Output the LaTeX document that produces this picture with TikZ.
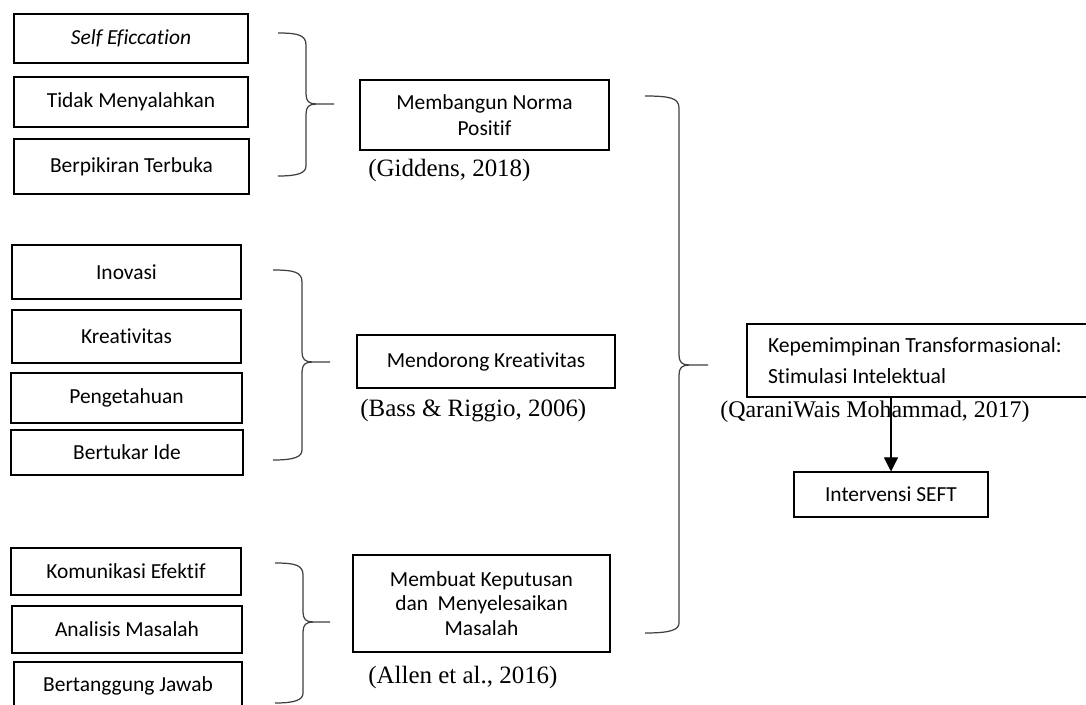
\documentclass[tikz,border=0pt]{standalone}
\usepackage{fontspec}
\setmainfont[Ligatures=NoCommon]{Carlito}
\newfontfamily\citefont{Liberation Serif}
\usepackage{tikz}
\usetikzlibrary{arrows.meta}

\tikzset{
  factor/.style={draw, line width=1.1pt, inner sep=0pt, align=center,
    font=\fontsize{12.2}{14.7}\selectfont},
  refnote/.style={anchor=west, inner sep=0pt,
    font=\citefont\fontsize{14.2}{16}\selectfont},
  bracket/.style={line width=0.7pt, draw=black!75},
}

\begin{document}
\begin{tikzpicture}[x=0.02cm,y=-0.02cm]
\useasboundingbox[fill=white] (0,0) rectangle (1086,704);
\node[factor, minimum width=4.68cm, minimum height=0.98cm] (se) at (131,38.5) {\itshape Self Eficcation};
\node[factor, minimum width=4.68cm, minimum height=1.00cm] (tm) at (131,102) {Tidak Menyalahkan};
\node[factor, minimum width=4.70cm, minimum height=1.10cm] (bt) at (131.5,166.5) {Berpikiran Terbuka};
\node[factor, minimum width=4.58cm, minimum height=1.08cm] (ino) at (126.5,272) {Inovasi};
\node[factor, minimum width=4.58cm, minimum height=1.06cm] (kre) at (126.5,336.5) {Kreativitas};
\node[factor, minimum width=4.62cm, minimum height=1.00cm] (pen) at (126.5,398) {Pengetahuan};
\node[factor, minimum width=4.64cm, minimum height=0.90cm] (bti) at (127,452.5) {Bertukar Ide};
\node[factor, minimum width=4.60cm, minimum height=0.94cm] (kom) at (126,571.5) {Komunikasi Efektif};
\node[factor, minimum width=4.60cm, minimum height=0.94cm] (ana) at (127,629.5) {Analisis Masalah};
\node[factor, minimum width=4.56cm, minimum height=0.96cm] (bjw) at (128,686) {Bertanggung Jawab};

\node[factor, minimum width=4.98cm, minimum height=1.40cm] (norma) at (484.5,115) {Membangun Norma\\Positif};
\node[factor, minimum width=5.16cm, minimum height=1.06cm] (dorong) at (486,361.5) {Mendorong Kreativitas};
\node[factor, minimum width=5.14cm, minimum height=1.94cm, font=\fontsize{12.2}{14}\selectfont] (putus) at (481.5,603.5) {Membuat Keputusan\\dan~ Menyelesaikan\\Masalah};
\node[refnote] (refA) at (368,170) {(Giddens, 2018)};
\node[refnote] (refB) at (360,411) {(Bass \& Riggio, 2006)};
\node[refnote] (refC) at (368,677) {(Allen et al., 2016)};

\node[factor, minimum width=6.86cm, minimum height=1.46cm, inner xsep=0.42cm, text width=6.02cm, align=flush left,
  font=\fontsize{12.3}{17.6}\selectfont] (stim) at (918.5,360.5) {Kepemimpinan Transformasional:\\Stimulasi Intelektual};
\node[refnote, font=\citefont\fontsize{13.6}{16}\selectfont] (refD) at (720,412) {(QaraniWais Mohammad, 2017)};
\node[factor, line width=0.6pt, minimum width=3.88cm, minimum height=0.90cm] (seft) at (891,494.5) {Intervensi SEFT};
\draw[-{Triangle[width=8pt,length=8pt]}, line width=0.6pt] (stim.south -| seft.north) -- (seft.north);

\draw[bracket] (278,33) .. controls (298,33) and (306,35) .. (306,45) -- (306,94) .. controls (306,101) and (309,104) .. (316,104) -- (334,104);
\draw[bracket] (316,104) .. controls (309,104) and (306,107) .. (306,114) -- (306,166) .. controls (306,173) and (298,176) .. (278,176);
\draw[bracket] (273,270) .. controls (294,270) and (302,272) .. (302,282) -- (302,352) .. controls (302,359) and (305,362) .. (312,362) -- (330,362);
\draw[bracket] (312,362) .. controls (305,362) and (302,365) .. (302,372) -- (302,450) .. controls (302,457) and (294,460) .. (273,460);
\draw[bracket] (275,563) .. controls (295,563) and (303,565) .. (303,575) -- (303,612) .. controls (303,619) and (306,622) .. (313,622) -- (330,622);
\draw[bracket] (313,622) .. controls (306,622) and (303,625) .. (303,632) -- (303,693) .. controls (303,700) and (295,703) .. (275,703);
\draw[bracket] (645,96) .. controls (670,96) and (679,98) .. (679,108) -- (679,355) .. controls (679,362) and (682,365) .. (689,365) -- (708,365);
\draw[bracket] (689,365) .. controls (682,365) and (679,368) .. (679,375) -- (679,623) .. controls (679,630) and (670,633) .. (645,633);
\end{tikzpicture}
\end{document}
